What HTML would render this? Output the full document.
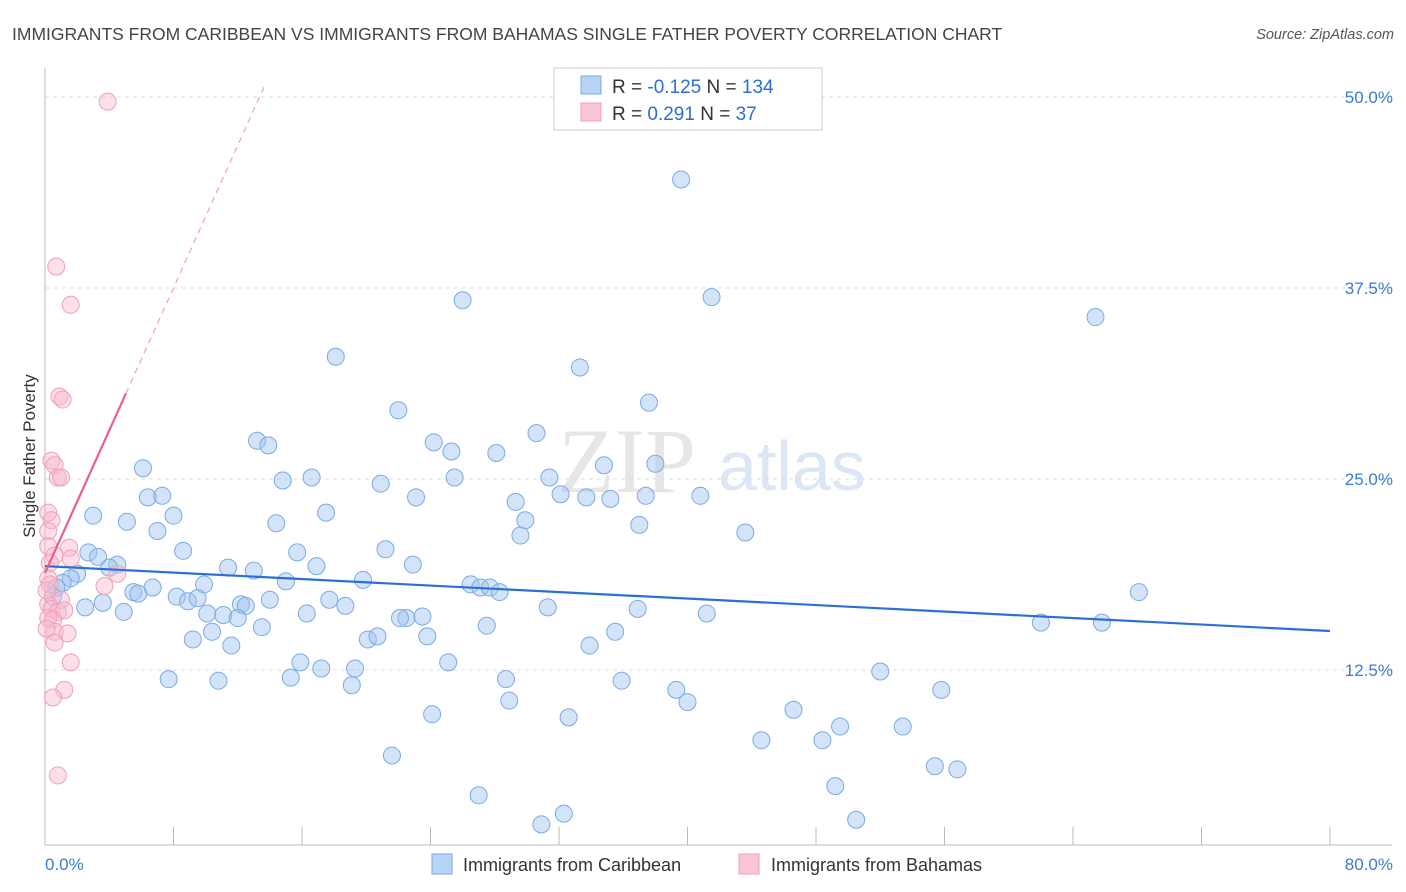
<!DOCTYPE html>
<html><head><meta charset="utf-8"><style>
body{margin:0;background:#fff;font-family:"Liberation Sans",sans-serif;}
svg{display:block}
</style></head><body>
<svg id="chart" width="1406" height="892">
<text x="12" y="40" font-size="17.5" fill="#444">IMMIGRANTS FROM CARIBBEAN VS IMMIGRANTS FROM BAHAMAS SINGLE FATHER POVERTY CORRELATION CHART</text>
<text x="1394" y="39" font-size="14.5" fill="#555" text-anchor="end" font-style="italic">Source: ZipAtlas.com</text>
<text x="558" y="492" font-size="92" fill="#e6e6e6" font-family="Liberation Serif,serif">ZIP</text>
<text x="718" y="490" font-size="70" fill="#dce7f5">atlas</text>
<g id="grid"></g><g id="axes"></g><g id="pts"></g><g id="lines"></g>
<text transform="translate(35,456) rotate(-90)" font-size="17" fill="#333" text-anchor="middle">Single Father Poverty</text>
<text x="45" y="870" font-size="17" fill="#3a7bd5">0.0%</text>
<text x="1393" y="870" font-size="17" fill="#3a7bd5" text-anchor="end">80.0%</text>
<g>
<rect x="554" y="68" width="268" height="62" fill="#fff" stroke="#ccc"/>
<rect x="581" y="76" width="20" height="18" fill="#b8d4f5" stroke="#7aaae6"/>
<rect x="581" y="103" width="20" height="18" fill="#f9c6d6" stroke="#f0a0b8"/>
<text x="612" y="93" font-size="19" fill="#333">R = <tspan fill="#2b6fd6">-0.125</tspan>   N = <tspan fill="#2b6fd6">134</tspan></text>
<text x="612" y="120" font-size="19" fill="#333">R =   <tspan fill="#2b6fd6">0.291</tspan>   N =   <tspan fill="#2b6fd6">37</tspan></text>
</g>
<g>
<rect x="432" y="854" width="20" height="20" fill="#b8d4f5" stroke="#7aaae6"/>
<text x="463" y="871" font-size="18" fill="#333">Immigrants from Caribbean</text>
<rect x="739" y="854" width="20" height="20" fill="#f9c6d6" stroke="#f0a0b8"/>
<text x="771" y="871" font-size="18" fill="#333">Immigrants from Bahamas</text>
</g>
</svg>
<script>
const yTicks=[12.5,25,37.5,50];
const yTickLabels=["12.5%","25.0%","37.5%","50.0%"];
const xTicks=[0,8,16,24,32,40,48,56,64,72,80];
const blueX=[39.6,26.0,41.5,65.4,18.1,33.3,22.0,37.6,30.6,13.2,13.9,24.2,25.3,28.1,34.8,38.0,6.1,14.8,16.6,20.9,25.5,31.4,6.4,7.3,23.1,29.3,32.1,33.7,35.2,37.4,40.8,3.0,5.1,8.0,14.4,17.5,29.9,29.6,37.0,43.6,7.0,2.7,3.3,8.6,15.7,21.2,4.5,4.0,11.4,13.0,16.9,22.9,2.0,1.6,1.1,0.7,0.5,6.7,5.5,5.8,9.9,15.0,19.8,26.5,27.1,27.7,28.3,68.1,8.2,8.9,9.5,12.2,12.5,14.0,17.7,18.7,3.6,2.5,4.9,10.1,11.1,12.0,16.3,22.5,22.1,23.5,31.3,36.9,41.2,62.0,65.8,27.5,13.5,10.4,9.2,11.6,20.1,20.7,23.8,35.5,33.9,15.9,17.2,19.3,25.1,52.0,7.7,10.8,15.3,19.1,28.7,35.9,39.3,40.0,55.8,28.9,24.1,32.6,46.6,44.6,48.4,49.5,53.4,21.6,55.4,56.8,49.2,27.0,32.3,30.9,50.5];
const blueY=[44.6,36.7,36.9,35.6,33.0,32.3,29.5,30.0,28.0,27.5,27.2,27.4,26.8,26.7,25.9,26.0,25.7,24.9,25.1,24.7,25.1,25.1,23.8,23.9,23.8,23.5,24.0,23.8,23.7,23.9,23.9,22.6,22.2,22.6,22.1,22.8,22.3,21.3,22.0,21.5,21.6,20.2,19.9,20.3,20.2,20.4,19.4,19.2,19.2,19.0,19.3,19.4,18.8,18.5,18.2,17.9,17.3,17.9,17.6,17.5,18.1,18.3,18.4,18.1,17.9,17.9,17.6,17.6,17.3,17.0,17.2,16.8,16.7,17.1,17.1,16.7,16.9,16.6,16.3,16.2,16.1,15.9,16.2,15.9,15.9,16.0,16.6,16.5,16.2,15.6,15.6,15.4,15.3,15.0,14.5,14.1,14.5,14.7,14.7,15.0,14.1,13.0,12.6,12.6,13.0,12.4,11.9,11.8,12.0,11.5,11.9,11.8,11.2,10.4,11.2,10.5,9.6,9.4,9.9,7.9,7.9,8.8,8.8,6.9,6.2,6.0,4.9,4.3,3.1,2.4,2.7];
const pinkX=[3.9,0.7,1.6,0.9,1.1,0.4,0.6,0.8,1.0,0.2,0.4,0.2,0.2,1.5,0.6,1.6,0.3,4.5,0.2,3.7,1.0,0.2,0.4,0.8,1.2,0.2,0.5,0.6,0.1,1.4,0.6,1.6,1.2,0.5,0.8,0.3,0.1];
const pinkY=[49.7,38.9,36.4,30.4,30.2,26.2,25.9,25.1,25.1,22.8,22.3,21.6,20.6,20.5,20.0,19.8,19.5,18.8,18.5,18.0,17.1,16.8,16.5,16.3,16.4,15.9,15.8,15.0,15.2,14.9,14.3,13.0,11.2,10.7,5.6,18.1,17.7];
const blueTrend=[19.3,15.05]; // y at x=0 and x=80
const pinkTrendSolid=[0,18.85,5.04,30.6];
const pinkTrendDashed=[5.04,30.6,13.7,50.8];
const NS="http://www.w3.org/2000/svg";
const X=v=>45+v*1285/80, Y=v=>861-v*15.28;
function mk(t,a,p){const e=document.createElementNS(NS,t);for(const k in a)e.setAttribute(k,a[k]);p.appendChild(e);return e;}
const grid=document.getElementById('grid'),axes=document.getElementById('axes'),pts=document.getElementById('pts'),lines=document.getElementById('lines');
yTicks.forEach((v,i)=>{
 const l=mk('line',{x1:45,x2:1392,y1:Y(v),y2:Y(v),stroke:'#ddd','stroke-dasharray':'4,4'},grid);
 
 
 const t=mk('text',{x:1393,y:Y(v)+6,'font-size':17,fill:'#3a7bd5','text-anchor':'end'},grid);
 t.textContent=yTickLabels[i];
 
 
});
const ya=mk('line',{x1:45,x2:45,y1:68,y2:845,stroke:'#bbb'},axes);


const xa=mk('line',{x1:45,x2:1392,y1:845,y2:845,stroke:'#bbb'},axes);


xTicks.forEach(v=>{
 const t=mk('line',{x1:X(v),x2:X(v),y1:827,y2:845,stroke:'#bbb'},axes);
 
 
});
blueX.forEach((x,i)=>{
 const c=mk('circle',{cx:X(x),cy:Y(blueY[i]),r:8.5,fill:'rgba(160,196,240,0.45)',stroke:'#7aaae6','stroke-width':1},pts);
 
 
});
pinkX.forEach((x,i)=>{
 const c=mk('circle',{cx:X(x),cy:Y(pinkY[i]),r:8.5,fill:'rgba(248,185,205,0.45)',stroke:'#f0a0b8','stroke-width':1},pts);
 
 
});
const bl=mk('line',{x1:X(0),y1:Y(blueTrend[0]),x2:X(80),y2:Y(blueTrend[1]),stroke:'#2b6fd6','stroke-width':2.2},lines);


const pl=mk('line',{x1:X(pinkTrendSolid[0]),y1:Y(pinkTrendSolid[1]),x2:X(pinkTrendSolid[2]),y2:Y(pinkTrendSolid[3]),stroke:'#e8608a','stroke-width':2.2},lines);


const pd=mk('line',{x1:X(pinkTrendDashed[0]),y1:Y(pinkTrendDashed[1]),x2:X(pinkTrendDashed[2]),y2:Y(pinkTrendDashed[3]),stroke:'#f0a0b8','stroke-width':1.2,'stroke-dasharray':'6,5'},lines);


</script>
</body></html>
